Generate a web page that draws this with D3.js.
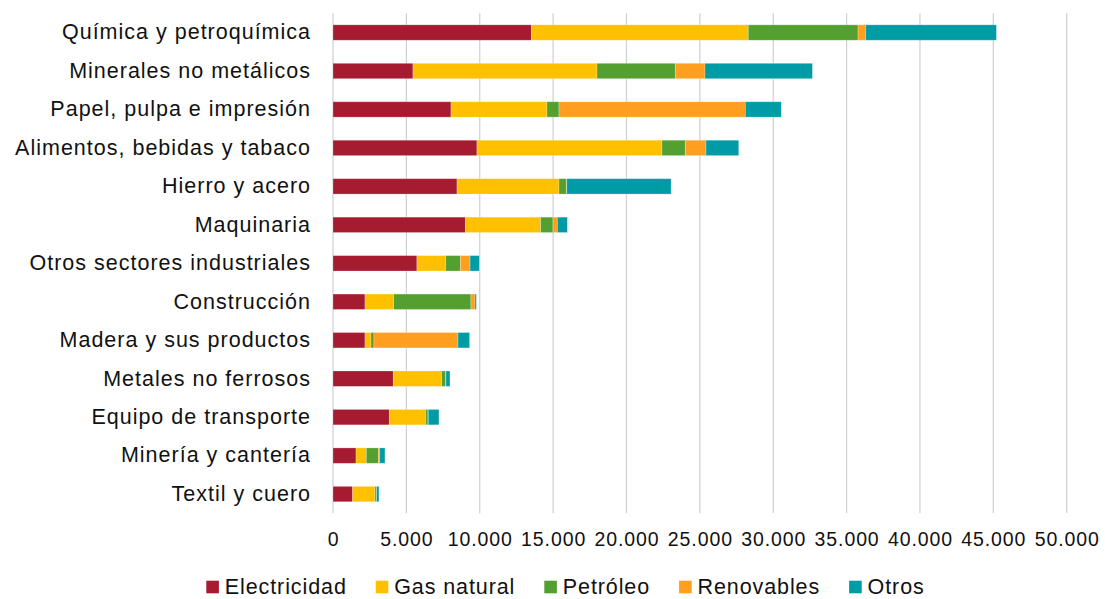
<!DOCTYPE html>
<html>
<head>
<meta charset="utf-8">
<script src="https://cdn.jsdelivr.net/npm/d3@7"></script>
<style>
  html, body { margin: 0; padding: 0; background: #fff; }
  svg { display: block; font-family: "Liberation Sans", Arial, sans-serif; }
</style>
</head>
<body>
<div id="chart"></div>
<script>
// sectors, top to bottom
const sectors = [
  'Química y petroquímica', 'Minerales no metálicos', 'Papel, pulpa e impresión',
  'Alimentos, bebidas y tabaco', 'Hierro y acero', 'Maquinaria',
  'Otros sectores industriales', 'Construcción', 'Madera y sus productos',
  'Metales no ferrosos', 'Equipo de transporte', 'Minería y cantería', 'Textil y cuero'
];

const seriesNames = ['Electricidad', 'Gas natural', 'Petróleo', 'Renovables', 'Otros'];
const seriesColors = ['#a61b2f', '#ffc000', '#53a031', '#ff9f1f', '#009ca6'];

const electricidad = [13520, 5450, 8040, 9810, 8450, 9020, 5720, 2180, 2180, 4110, 3840, 1570, 1340];
const gasNatural   = [14780, 12540, 6540, 12610, 6950, 5130, 1960, 1950, 410, 3290, 2470, 700, 1520];
const petroleo     = [7480, 5340, 820, 1590, 500, 840, 1000, 5270, 200, 280, 160, 820, 90];
const renovables   = [520, 2020, 12700, 1410, 30, 300, 660, 280, 5730, 20, 20, 90, 20];
const otros        = [8910, 7320, 2450, 2230, 7110, 680, 630, 90, 790, 270, 730, 360, 160];

const xTicks = [0, 5000, 10000, 15000, 20000, 25000, 30000, 35000, 40000, 45000, 50000];

(function() {
  const width = 1105, height = 599;
  const margin = { top: 13.3, right: 38.3, bottom: 85.7, left: 333 };
  const innerWidth = width - margin.left - margin.right;
  const innerHeight = height - margin.top - margin.bottom;

  const rows = sectors.map(function(s, i) {
    return {
      sector: s,
      'Electricidad': electricidad[i],
      'Gas natural': gasNatural[i],
      'Petróleo': petroleo[i],
      'Renovables': renovables[i],
      'Otros': otros[i]
    };
  });

  const stacked = d3.stack().keys(seriesNames)(rows);
  const color = d3.scaleOrdinal().domain(seriesNames).range(seriesColors);

  const svg = d3.select('#chart').append('svg')
    .attr('width', width)
    .attr('height', height);

  const g = svg.append('g')
    .attr('transform', 'translate(' + margin.left + ',' + margin.top + ')');

  const x = d3.scaleLinear().domain([0, 50000]).range([0, innerWidth]);
  const y = d3.scaleBand().domain(sectors).range([0, innerHeight])
    .paddingInner(0.6).paddingOuter(0.3);

  const fmt = function(v) { return d3.format(',')(v).replace(/,/g, '.'); };

  // gridlines
  g.append('g')
    .selectAll('line')
    .data(xTicks)
    .enter()
    .append('line')
      .attr('x1', function(d) { return x(d); })
      .attr('x2', function(d) { return x(d); })
      .attr('y1', 0)
      .attr('y2', innerHeight)
      .attr('stroke', '#d0d3d4')
      .attr('stroke-width', 1.3);

  // x axis labels
  const xAxis = g.append('g')
    .attr('transform', 'translate(0,' + innerHeight + ')')
    .call(d3.axisBottom(x).tickValues(xTicks).tickFormat(fmt).tickSize(0).tickPadding(19));
  xAxis.select('.domain').remove();
  xAxis.selectAll('text')
    .style('font-family', '"Liberation Sans", Arial, sans-serif')
    .style('font-size', '19.5px')
    .style('letter-spacing', '0.9px')
    .style('fill', '#111');

  // y axis labels
  const yAxis = g.append('g')
    .call(d3.axisLeft(y).tickSize(0).tickPadding(22));
  yAxis.select('.domain').remove();
  yAxis.selectAll('text')
    .style('font-family', '"Liberation Sans", Arial, sans-serif')
    .style('font-size', '21.5px')
    .style('letter-spacing', '1px')
    .style('fill', '#111');

  // bars
  g.append('g')
    .selectAll('g')
    .data(stacked)
    .enter()
    .append('g')
      .attr('fill', function(d) { return color(d.key); })
    .selectAll('rect')
    .data(function(d) { return d; })
    .enter()
    .append('rect')
      .attr('x', function(d) { return x(d[0]); })
      .attr('y', function(d) { return y(d.data.sector); })
      .attr('width', function(d) { return Math.max(0, x(d[1]) - x(d[0])); })
      .attr('height', y.bandwidth())
      .attr('stroke', '#ffffff')
      .attr('stroke-opacity', 0.3)
      .attr('stroke-width', 0.8);

  // legend (kept just inside the bottom edge)
  const legend = svg.append('g').attr('transform', 'translate(0,587)');
  const items = legend.selectAll('g')
    .data(seriesNames)
    .enter()
    .append('g');
  items.append('rect')
    .attr('x', 0)
    .attr('y', -6.3)
    .attr('width', 12.6)
    .attr('height', 12.6)
    .attr('fill', function(d) { return color(d); });
  items.append('text')
    .attr('x', 18.5)
    .attr('y', 7.2)
    .style('font-size', '21.5px')
    .style('letter-spacing', '0.9px')
    .style('fill', '#111')
    .text(function(d) { return d; });

  const gap = 29;
  const widths = [];
  items.each(function() {
    widths.push(18.5 + d3.select(this).select('text').node().getComputedTextLength());
  });
  const total = d3.sum(widths) + gap * (widths.length - 1);
  let cx = 565.5 - total / 2;
  items.each(function(d, i) {
    d3.select(this).attr('transform', 'translate(' + cx + ',0)');
    cx += widths[i] + gap;
  });
})();
</script>
</body>
</html>
